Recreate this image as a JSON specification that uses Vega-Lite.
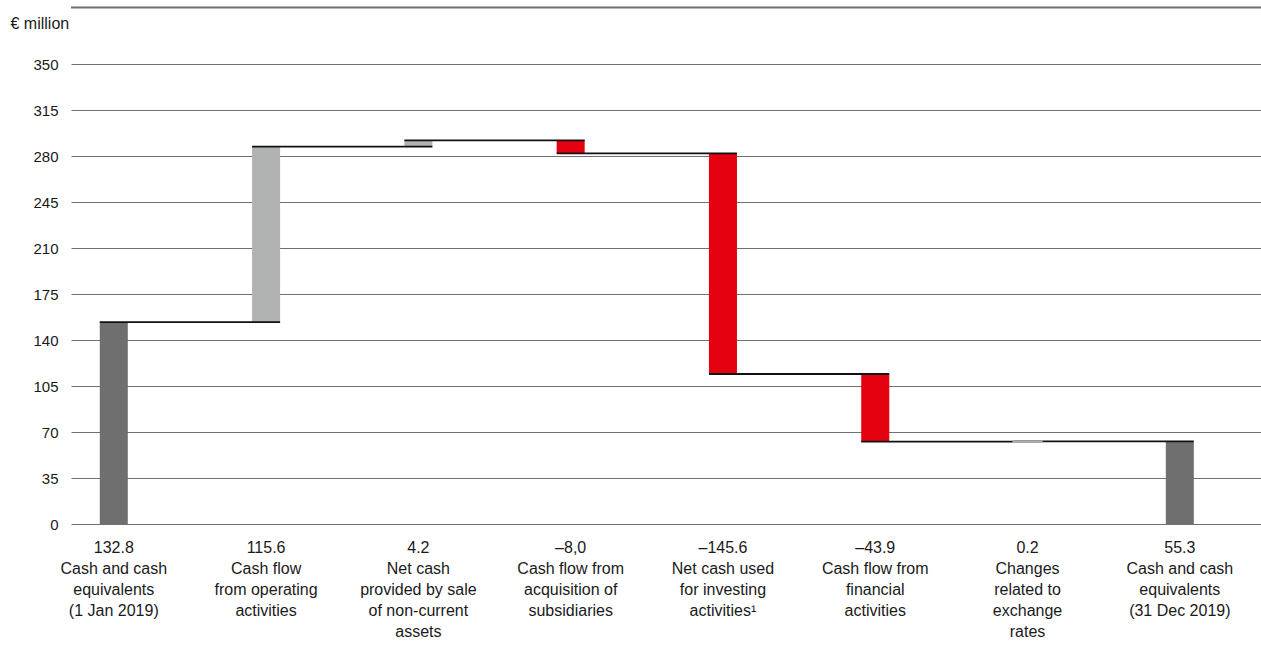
{
  "$schema": "https://vega.github.io/schema/vega-lite/v6.json",
  "autosize": "none",
  "width": 1190,
  "height": 460.3,
  "padding": {"left": 71, "top": 64, "right": 0, "bottom": 128.7},
  "background": "white",
  "config": {
    "font": "Liberation Sans",
    "view": {"stroke": null}
  },
  "datasets": {
    "bars": [
      {"label": "132.8|Cash and cash|equivalents|(1 Jan 2019)", "start": 0, "end": 153.8, "kind": "total"},
      {"label": "115.6|Cash flow|from operating|activities", "start": 153.8, "end": 287.1, "kind": "increase"},
      {"label": "4.2|Net cash|provided by sale|of non-current|assets", "start": 287.1, "end": 292.0, "kind": "increase"},
      {"label": "–8,0|Cash flow from|acquisition of|subsidiaries", "start": 292.0, "end": 282.1, "kind": "decrease"},
      {"label": "–145.6|Net cash used|for investing|activities¹", "start": 282.1, "end": 114.3, "kind": "decrease"},
      {"label": "–43.9|Cash flow from|financial|activities", "start": 114.3, "end": 62.8, "kind": "decrease"},
      {"label": "0.2|Changes|related to|exchange|rates", "start": 62.8, "end": 63.0, "kind": "increase"},
      {"label": "55.3|Cash and cash|equivalents|(31 Dec 2019)", "start": 0, "end": 63.0, "kind": "total"}
    ],
    "links": [
      {"from": "132.8|Cash and cash|equivalents|(1 Jan 2019)", "to": "115.6|Cash flow|from operating|activities", "level": 153.8},
      {"from": "115.6|Cash flow|from operating|activities", "to": "4.2|Net cash|provided by sale|of non-current|assets", "level": 287.1},
      {"from": "4.2|Net cash|provided by sale|of non-current|assets", "to": "–8,0|Cash flow from|acquisition of|subsidiaries", "level": 292.0},
      {"from": "–8,0|Cash flow from|acquisition of|subsidiaries", "to": "–145.6|Net cash used|for investing|activities¹", "level": 282.1},
      {"from": "–145.6|Net cash used|for investing|activities¹", "to": "–43.9|Cash flow from|financial|activities", "level": 114.3},
      {"from": "–43.9|Cash flow from|financial|activities", "to": "0.2|Changes|related to|exchange|rates", "level": 62.8},
      {"from": "0.2|Changes|related to|exchange|rates", "to": "55.3|Cash and cash|equivalents|(31 Dec 2019)", "level": 63.0}
    ],
    "frame": [{"top": 393}]
  },
  "layer": [
    {
      "data": {"name": "bars"},
      "mark": {"type": "bar"},
      "encoding": {
        "x": {
          "field": "label", "type": "nominal", "sort": null,
          "scale": {"paddingInner": 0.816, "paddingOuter": 0.315, "align": 0.3},
          "axis": {
            "title": null,
            "labelExpr": "split(datum.label, '|')",
            "labelAngle": 0,
            "labelAlign": "center",
            "labelBaseline": "top",
            "labelFontSize": 16,
            "labelLineHeight": 21,
            "labelColor": "#1a1a1a",
            "labelPadding": 15,
            "labelLimit": 0,
            "labelOverlap": false,
            "labelBound": false,
            "ticks": false,
            "domain": false,
            "grid": false
          }
        },
        "y": {
          "field": "start", "type": "quantitative",
          "scale": {"domain": [0, 350], "nice": false, "zero": true},
          "axis": {
            "values": [0, 35, 70, 105, 140, 175, 210, 245, 280, 315, 350],
            "title": "€ million",
            "titleAngle": 0,
            "titleAlign": "left",
            "titleBaseline": "alphabetic",
            "titleX": -61,
            "titleY": -36,
            "titleFontSize": 16,
            "titleFontWeight": "normal",
            "titleColor": "#1a1a1a",
            "labelFontSize": 15,
            "labelColor": "#1a1a1a",
            "labelPadding": 13,
            "ticks": false,
            "domain": false,
            "grid": true,
            "gridColor": "#707070",
            "gridWidth": 1
          }
        },
        "y2": {"field": "end"},
        "color": {
          "field": "kind", "type": "nominal",
          "scale": {"domain": ["total", "increase", "decrease"], "range": ["#6e6f6e", "#b1b3b3", "#e3000f"]},
          "legend": null
        }
      }
    },
    {
      "data": {"name": "links"},
      "mark": {"type": "rule", "color": "#111111", "strokeWidth": 1.8},
      "encoding": {
        "x": {"field": "from", "type": "nominal", "sort": null, "bandPosition": 0},
        "x2": {"field": "to", "bandPosition": 1},
        "y": {"field": "level", "type": "quantitative"}
      }
    },
    {
      "data": {"name": "bars"},
      "transform": [{"filter": "abs(datum.end - datum.start) < 1"}],
      "mark": {"type": "bar", "stroke": "#b1b3b3", "strokeWidth": 2.2},
      "encoding": {
        "x": {"field": "label", "type": "nominal", "sort": null},
        "y": {"field": "start", "type": "quantitative"},
        "y2": {"field": "end"},
        "color": {"field": "kind", "type": "nominal", "legend": null}
      }
    },
    {
      "data": {"name": "frame"},
      "mark": {"type": "rule", "color": "#707070", "strokeWidth": 2, "clip": false},
      "encoding": {
        "y": {"field": "top", "type": "quantitative"}
      }
    }
  ]
}
